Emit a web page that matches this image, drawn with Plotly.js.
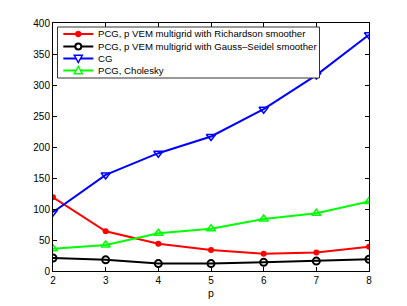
<!DOCTYPE html>
<html>
<head>
<meta charset="utf-8">
<script src="https://cdn.plot.ly/plotly-3.0.1.min.js"></script>
<style>html,body{margin:0;padding:0;background:#fff;}#chart{width:407px;height:306px;}</style>
</head>
<body>
<div id="chart"></div>
<script>
var p = [2, 3, 4, 5, 6, 7, 8];
var richardson = [119, 64, 44, 34, 28, 30, 39];
var gaussSeidel = [21, 18, 12, 12, 14, 16, 19];
var cg = [95, 155, 190, 217, 261, 316, 381];
var cholesky = [36, 42, 61, 68, 84, 93, 112];
var names = [
  'PCG, p VEM multigrid with Richardson smoother',
  'PCG, p VEM multigrid with Gauss\u2013Seidel smoother',
  'CG',
  'PCG, Cholesky'
];
var yTicks = [0, 50, 100, 150, 200, 250, 300, 350, 400];
var colors = ['#ff0000', '#000000', '#0000ff', '#00ff00'];

var FONT = 'Liberation Sans, Arial, sans-serif';

var traces = [
  {x: p, y: richardson, name: names[0], mode: 'lines+markers',
   line: {color: colors[0], width: 2}, marker: {symbol: 'circle', size: 6, color: colors[0]}},
  {x: p, y: gaussSeidel, name: names[1], mode: 'lines+markers',
   line: {color: colors[1], width: 2}, marker: {symbol: 'circle-open', size: 7, color: colors[1], line: {width: 2}}},
  {x: p, y: cg, name: names[2], mode: 'lines+markers',
   line: {color: colors[2], width: 2}, marker: {symbol: 'triangle-down-open', size: 8, color: colors[2], line: {width: 1.5}}},
  {x: p, y: cholesky, name: names[3], mode: 'lines+markers',
   line: {color: colors[3], width: 2}, marker: {symbol: 'triangle-up-open', size: 8, color: colors[3], line: {width: 1.5}}}
];

// plot area in pixels (for a compact, MATLAB-style legend)
var L = 53, R = 369, T = 23, B = 271;
function px(x) { return (x - L) / (R - L); }
function py(y) { return (B - y) / (B - T); }

var shapes = [];
var annotations = [];
// legend box
shapes.push({type: 'rect', xref: 'paper', yref: 'paper',
  x0: px(57.5), x1: px(319.5), y0: py(78), y1: py(27),
  line: {color: '#333', width: 1}, fillcolor: '#fff', layer: 'above'});
var rowY = [34, 46.5, 58.5, 70.5];
var mx = 78.3;
for (var i = 0; i < names.length; i++) {
  var y = rowY[i];
  shapes.push({type: 'line', xref: 'paper', yref: 'paper',
    x0: px(63.3), x1: px(93.3), y0: py(y), y1: py(y),
    line: {color: colors[i], width: 2}, layer: 'above'});
  if (i === 0) {
    shapes.push({type: 'circle', xref: 'paper', yref: 'paper',
      x0: px(mx - 2.8), x1: px(mx + 2.8), y0: py(y + 2.8), y1: py(y - 2.8),
      fillcolor: colors[0], line: {color: colors[0], width: 1}, layer: 'above'});
  } else if (i === 1) {
    shapes.push({type: 'circle', xref: 'paper', yref: 'paper',
      x0: px(mx - 3), x1: px(mx + 3), y0: py(y + 3), y1: py(y - 3),
      fillcolor: '#fff', line: {color: colors[1], width: 2}, layer: 'above'});
  } else {
    var s = 4;
    var pts = (i === 2)
      ? [[mx - s, y - s * 0.8], [mx + s, y - s * 0.8], [mx, y + s]]
      : [[mx - s, y + s * 0.8], [mx + s, y + s * 0.8], [mx, y - s]];
    var path = 'M' + pts.map(function (q) { return px(q[0]) + ',' + py(q[1]); }).join(' L') + ' Z';
    shapes.push({type: 'path', xref: 'paper', yref: 'paper', path: path,
      fillcolor: '#fff', line: {color: colors[i], width: 1.5}, layer: 'above'});
  }
  annotations.push({xref: 'paper', yref: 'paper', x: px(95.7), y: py(y),
    xanchor: 'left', yanchor: 'middle', showarrow: false, text: names[i],
    font: {family: FONT, size: 9.6, color: '#000'}});
}

var axisCommon = {
  showgrid: false, zeroline: false, showline: true, mirror: 'ticks',
  linecolor: '#000', linewidth: 1, ticks: 'inside', ticklen: 4, tickcolor: '#000',
  tickfont: {family: FONT, size: 10, color: '#000'}
};

var layout = {
  width: 407, height: 306,
  margin: {l: L, r: 407 - R, t: T, b: 306 - B},
  paper_bgcolor: '#fff', plot_bgcolor: '#fff',
  showlegend: false,
  font: {family: FONT, size: 10, color: '#000'},
  xaxis: Object.assign({}, axisCommon, {
    range: [2, 8], tickvals: p, ticktext: p.map(String),
    title: {text: 'p', standoff: 4, font: {family: FONT, size: 10.5, color: '#000'}}
  }),
  yaxis: Object.assign({}, axisCommon, {
    range: [0, 400], tickvals: yTicks, ticktext: yTicks.map(String)
  }),
  shapes: shapes,
  annotations: annotations
};

Plotly.newPlot('chart', traces, layout, {displayModeBar: false, staticPlot: true});
</script>
</body>
</html>
